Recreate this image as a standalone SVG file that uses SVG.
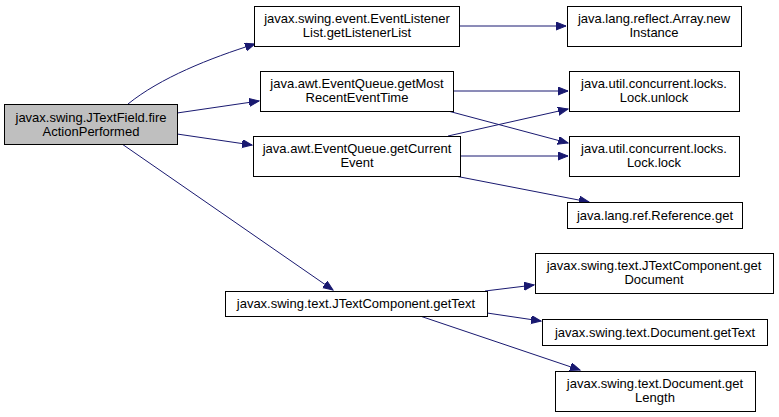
<svg xmlns="http://www.w3.org/2000/svg" width="779" height="417" viewBox="0 0 779 417">
<style>
.n rect{fill:#ffffff;stroke:#000000;stroke-width:1}
.n.main rect{fill:#bfbfbf}
.n text{font-family:"Liberation Sans",Arial,sans-serif;font-size:13px;text-anchor:middle;fill:#000000}
.e path{fill:none;stroke:#191970;stroke-width:1;marker-end:url(#arr)}
</style>
<defs>
<marker id="arr" markerUnits="userSpaceOnUse" markerWidth="12" markerHeight="10" refX="10" refY="4" orient="auto">
<path d="M0,0 L10,4 L0,8 Z" fill="#191970" stroke="#191970"/>
</marker>
</defs>
<rect width="779" height="417" fill="#ffffff"/>
<g id="edges" class="e">
<path d="M128,104 C160,78 210,58 255,44"/>
<path d="M177,113 L259,101"/>
<path d="M177,134 L252,145"/>
<path d="M122,144 L333,290"/>
<path d="M459,26 L566,26"/>
<path d="M453,91 L568,91"/>
<path d="M448,111 L568,143"/>
<path d="M448,136 L568,109"/>
<path d="M460,156 L568,156"/>
<path d="M455,176 L589,202"/>
<path d="M485,291 L534,285"/>
<path d="M487,313 L541,321"/>
<path d="M420,316 L580,370"/>
</g>
<g id="node_main" class="n main"><rect x="4.5" y="104.5" width="173" height="40"/><text x="91" y="122">javax.swing.JTextField.fire</text><text x="91" y="136">ActionPerformed</text></g>
<g id="node_listenerlist" class="n"><rect x="254.5" y="6.5" width="205" height="40"/><text x="357" y="23">javax.swing.event.EventListener</text><text x="357" y="37">List.getListenerList</text></g>
<g id="node_mostrecent" class="n"><rect x="260.5" y="71.5" width="193" height="40"/><text x="357" y="88">java.awt.EventQueue.getMost</text><text x="357" y="102">RecentEventTime</text></g>
<g id="node_currentevent" class="n"><rect x="253.5" y="136.5" width="207" height="40"/><text x="357" y="153">java.awt.EventQueue.getCurrent</text><text x="357" y="167">Event</text></g>
<g id="node_gettext" class="n"><rect x="225.5" y="291.5" width="262" height="25"/><text x="356" y="308">javax.swing.text.JTextComponent.getText</text></g>
<g id="node_newinstance" class="n"><rect x="567.5" y="6.5" width="174" height="40"/><text x="654" y="23">java.lang.reflect.Array.new</text><text x="654" y="37">Instance</text></g>
<g id="node_unlock" class="n"><rect x="569.5" y="71.5" width="170" height="40"/><text x="654" y="88">java.util.concurrent.locks.</text><text x="654" y="102">Lock.unlock</text></g>
<g id="node_lock" class="n"><rect x="569.5" y="136.5" width="170" height="40"/><text x="654" y="153">java.util.concurrent.locks.</text><text x="654" y="167">Lock.lock</text></g>
<g id="node_refget" class="n"><rect x="567.5" y="202.5" width="175" height="26"/><text x="655" y="220">java.lang.ref.Reference.get</text></g>
<g id="node_getdocument" class="n"><rect x="535.5" y="253.5" width="238" height="40"/><text x="654" y="270">javax.swing.text.JTextComponent.get</text><text x="654" y="284">Document</text></g>
<g id="node_docgettext" class="n"><rect x="542.5" y="319.5" width="225" height="26"/><text x="655" y="337">javax.swing.text.Document.getText</text></g>
<g id="node_getlength" class="n"><rect x="555.5" y="371.5" width="200" height="40"/><text x="655" y="388">javax.swing.text.Document.get</text><text x="655" y="402">Length</text></g>
</svg>
